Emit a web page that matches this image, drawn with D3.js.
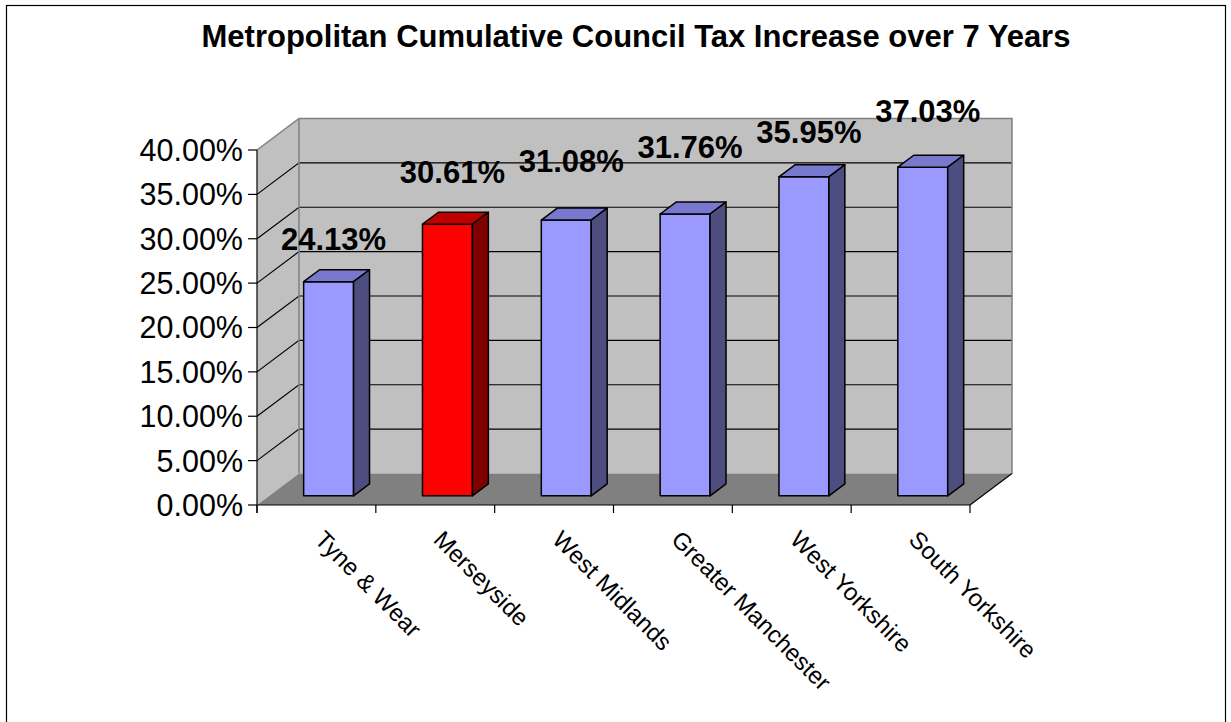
<!DOCTYPE html>
<html>
<head>
<meta charset="utf-8">
<script src="https://cdn.jsdelivr.net/npm/d3@7"></script>
<style>
  html, body { margin: 0; padding: 0; background: #fff; }
  svg { display: block; font-family: Arial, "Liberation Sans", sans-serif; }
</style>
</head>
<body>
<svg id="chart" width="1231" height="722"></svg>
<script>
// Cumulative council tax increase over seven years, by metropolitan area
const categories = ["Tyne & Wear", "Merseyside", "West Midlands", "Greater Manchester", "West Yorkshire", "South Yorkshire"];
const increases = [24.13, 30.61, 31.08, 31.76, 35.95, 37.03];
const valueLabels = ["24.13%", "30.61%", "31.08%", "31.76%", "35.95%", "37.03%"];
const yTicks = [0, 5, 10, 15, 20, 25, 30, 35, 40];
const highlighted = "Merseyside";

// distance of each value label above the top of its bar
const labelLift = [32, 41, 48, 56, 34, 45];

const svg = d3.select("#chart");

// outer frame
svg.append("rect")
  .attr("x", 6.5).attr("y", 5.5)
  .attr("width", 1219).attr("height", 730)
  .attr("fill", "#fff").attr("stroke", "#000").attr("stroke-width", 1.2);

// title
svg.append("text")
  .attr("x", 636).attr("y", 47)
  .attr("text-anchor", "middle")
  .attr("font-size", 31).attr("font-weight", "bold")
  .text("Metropolitan Cumulative Council Tax Increase over 7 Years");

// plot geometry (front plane) and depth vector of the 3D box
const plotLeft = 257, plotRight = 970, plotBottom = 505, plotTop = 150;
const depth = { dx: 42, dy: -31.5 };
const barFront = 0.29, barBack = 0.67; // fraction of depth occupied by bars

const x = d3.scaleBand().domain(categories).range([plotLeft, plotRight]).padding(0);
const y = d3.scaleLinear().domain([0, 40]).range([plotBottom, plotTop]);
const barW = x.bandwidth() * 0.42;

const pt = (px, py, t) => [px + depth.dx * t, py + depth.dy * t];
const line = d3.line();

// side wall
svg.append("path")
  .attr("d", line([pt(plotLeft, y(0), 0), pt(plotLeft, y(40), 0), pt(plotLeft, y(40), 1), pt(plotLeft, y(0), 1)]) + "Z")
  .attr("fill", "#c0c0c0");
// back wall
svg.append("path")
  .attr("d", line([pt(plotLeft, y(0), 1), pt(plotLeft, y(40), 1), pt(plotRight, y(40), 1), pt(plotRight, y(0), 1)]) + "Z")
  .attr("fill", "#c0c0c0");
// floor
svg.append("path")
  .attr("d", line([pt(plotLeft, y(0), 0), pt(plotLeft, y(0), 1), pt(plotRight, y(0), 1), pt(plotRight, y(0), 0)]) + "Z")
  .attr("fill", "#808080");

// gridlines on side and back walls
const grid = yTicks.filter(v => v > 0 && v < 40);
svg.append("g").selectAll("path").data(grid).join("path")
  .attr("d", v => line([pt(plotLeft, y(v), 0), pt(plotLeft, y(v), 1), pt(plotRight, y(v), 1)]))
  .attr("fill", "none").attr("stroke", "#000").attr("stroke-width", 1.2);

// wall edges
svg.append("path")
  .attr("d", line([pt(plotLeft, y(40), 0), pt(plotLeft, y(40), 1), pt(plotRight, y(40), 1), pt(plotRight, y(0), 1)]))
  .attr("fill", "none").attr("stroke", "#808080").attr("stroke-width", 1.5);
svg.append("path")
  .attr("d", line([pt(plotLeft, y(40), 1), pt(plotLeft, y(0), 1)]))
  .attr("fill", "none").attr("stroke", "#808080").attr("stroke-width", 1.5);
svg.append("path")
  .attr("d", line([pt(plotRight, y(0), 0), pt(plotRight, y(0), 1)]))
  .attr("fill", "none").attr("stroke", "#000").attr("stroke-width", 1.2);

// bars
const palette = {
  normal: { front: "#9999ff", top: "#7878cf", side: "#4d4d80" },
  hi: { front: "#ff0000", top: "#c00000", side: "#800000" }
};
const bars = svg.append("g").selectAll("g").data(categories).join("g");
bars.each(function (c, i) {
  const g = d3.select(this);
  const col = c === highlighted ? palette.hi : palette.normal;
  const x0 = x(c) + (x.bandwidth() - barW) / 2;
  const x1 = x0 + barW;
  const yv = y(increases[i]);
  const y0 = y(0);
  const f = t => [pt(x0, yv, t), pt(x1, yv, t)];
  const [ftl, ftr] = f(barFront), [btl, btr] = f(barBack);
  const fbr = pt(x1, y0, barFront), fbl = pt(x0, y0, barFront), bbr = pt(x1, y0, barBack);
  const face = (pts, fill) => g.append("path")
    .attr("d", line(pts) + "Z").attr("fill", fill)
    .attr("stroke", "#000").attr("stroke-width", 1.5).attr("stroke-linejoin", "round");
  face([ftl, ftr, fbr, fbl], col.front);
  face([ftl, btl, btr, ftr], col.top);
  face([ftr, btr, bbr, fbr], col.side);
});

// value labels
svg.append("g").selectAll("text").data(categories).join("text")
  .attr("x", (c, i) => x(c) + x.bandwidth() / 2 + depth.dx * barFront + 5)
  .attr("y", (c, i) => y(increases[i]) + depth.dy * barFront - labelLift[i])
  .attr("text-anchor", "middle")
  .attr("font-size", 31).attr("font-weight", "bold")
  .text((c, i) => valueLabels[i]);

// value axis
const yAxis = svg.append("g");
yAxis.append("line")
  .attr("x1", plotLeft).attr("x2", plotLeft).attr("y1", y(40)).attr("y2", y(0) + 8)
  .attr("stroke", "#000").attr("stroke-width", 1.2);
yAxis.selectAll("line.tick").data(yTicks).join("line").attr("class", "tick")
  .attr("x1", plotLeft - 9).attr("x2", plotLeft).attr("y1", d => y(d)).attr("y2", d => y(d))
  .attr("stroke", "#000").attr("stroke-width", 1.2);
yAxis.selectAll("text").data(yTicks).join("text")
  .attr("x", plotLeft - 14).attr("y", d => y(d)).attr("dy", "0.36em")
  .attr("text-anchor", "end").attr("font-size", 30.5)
  .text(d => d3.format(".2f")(d) + "%");

// category axis
const xAxis = svg.append("g");
xAxis.append("line")
  .attr("x1", plotLeft).attr("x2", plotRight).attr("y1", plotBottom).attr("y2", plotBottom)
  .attr("stroke", "#000").attr("stroke-width", 1.2);
const edges = categories.map(c => x(c)).concat([plotRight]);
xAxis.selectAll("line.tick").data(edges).join("line").attr("class", "tick")
  .attr("x1", d => d).attr("x2", d => d).attr("y1", plotBottom).attr("y2", plotBottom + 8)
  .attr("stroke", "#000").attr("stroke-width", 1.2);
xAxis.selectAll("text").data(categories).join("text")
  .attr("transform", c => `translate(${x(c) + x.bandwidth() / 2 - 3},${plotBottom + 36}) rotate(45)`)
  .attr("font-size", 24)
  .text(c => c);
</script>
</body>
</html>
